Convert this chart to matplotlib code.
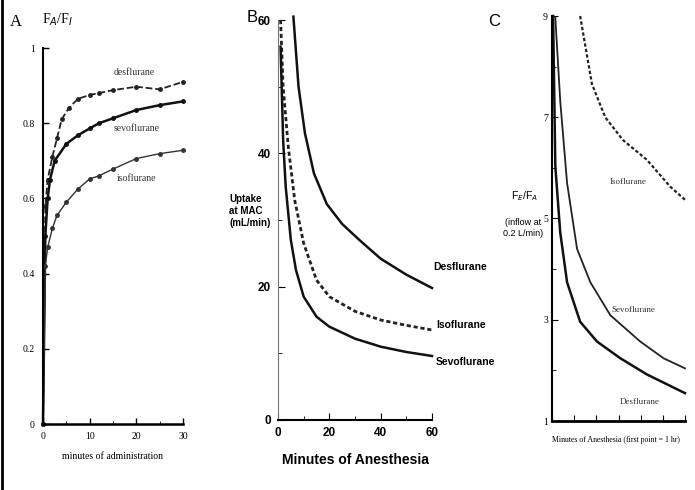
import numpy as np
import matplotlib.pyplot as plt
from matplotlib.lines import Line2D

# Panel A: alveolar / inspired concentration ratio vs minutes
a_des_x = [0, 0.5, 1, 2, 3, 4, 5.5, 7.5, 10, 12, 15, 20, 25, 30]
a_des_y = [0, 0.58, 0.65, 0.71, 0.76, 0.81, 0.84, 0.865, 0.875, 0.88, 0.888, 0.897, 0.89, 0.91]
a_sev_x = [0, 0.5, 1, 1.5, 2.5, 5, 7.5, 10, 12, 15, 20, 25, 30]
a_sev_y = [0, 0.5, 0.6, 0.65, 0.70, 0.745, 0.768, 0.786, 0.80, 0.813, 0.835, 0.848, 0.858]
a_iso_x = [0, 0.5, 1, 2, 3, 5, 7.5, 10, 12, 15, 20, 25, 30]
a_iso_y = [0, 0.42, 0.47, 0.52, 0.555, 0.59, 0.625, 0.652, 0.66, 0.678, 0.706, 0.719, 0.728]

# Panel B: uptake at MAC (mL/min)
b_des_x = [6, 8, 10.5, 14, 19, 25, 32, 40, 50, 60]
b_des_y = [60.5, 50, 43, 37, 32.4, 29.4, 26.9, 24.2, 21.8, 19.8]
b_iso_x = [1, 2, 4, 6.5, 10, 15, 20, 30, 40, 50, 60]
b_iso_y = [60, 50, 41, 33, 26.5, 21, 18.5, 16.3, 15, 14.2, 13.5]
b_sev_x = [1, 2, 3, 5, 7, 10, 15, 20, 30, 40, 50, 60]
b_sev_y = [56, 42, 35, 27, 22.5, 18.5, 15.5, 14, 12.2, 11, 10.2, 9.6]

# Panel C: FE/FA at 0.2 L/min inflow (x in hours, first point = 1 hr)
c_iso_x = [1.27, 1.8, 2.4, 3.2, 4.28, 5.33, 6.0]
c_iso_y = [9.0, 7.66, 7.0, 6.55, 6.16, 5.63, 5.37]
c_sev_x = [0.15, 0.37, 0.68, 1.13, 1.73, 2.63, 3.98, 5.03, 6.0]
c_sev_y = [8.97, 7.33, 5.7, 4.4, 3.74, 3.09, 2.57, 2.24, 2.04]
c_des_x = [0.05, 0.15, 0.37, 0.68, 1.27, 2.03, 3.08, 4.28, 6.0]
c_des_y = [9.0, 6.03, 4.73, 3.74, 2.96, 2.57, 2.24, 1.92, 1.55]

W, H = 695, 490
fig = plt.figure(figsize=(W / 100, H / 100), dpi=100)

serif = ['Liberation Serif', 'DejaVu Serif']
narrow = ['Liberation Sans Narrow', 'Liberation Sans', 'DejaVu Sans']


def fx(px):
    return px / W


def fy(py):
    return 1 - py / H


# ---- panel A ----
axA = fig.add_axes([fx(43), fy(424), fx(183) - fx(43), fy(48) - fy(424)])
axA.plot(a_des_x, a_des_y, '--', color='#222', lw=1.3, marker='o', ms=2.5, clip_on=False)
axA.plot(a_sev_x, a_sev_y, '-', color='#111', lw=1.8, marker='o', ms=2.5, clip_on=False)
axA.plot(a_iso_x, a_iso_y, '-', color='#333', lw=1.0, marker='o', ms=2.5, clip_on=False)
axA.set_xlim(0, 30)
axA.set_ylim(0, 1)
axA.set_xticks([0, 10, 20, 30])
axA.set_xticks([5, 15, 25], minor=True)
axA.set_yticks([0, 0.2, 0.4, 0.6, 0.8, 1])
axA.set_yticklabels(['0', '0.2', '0.4', '0.6', '0.8', '1'])
for s in ['top', 'right']:
    axA.spines[s].set_visible(False)
axA.spines['left'].set_linewidth(1.5)
axA.spines['bottom'].set_linewidth(1.8)
axA.tick_params(direction='in', length=4, labelsize=7, pad=6, width=1)
axA.tick_params(which='minor', direction='in', length=2)
for lab in axA.get_xticklabels() + axA.get_yticklabels():
    lab.set_family(serif)
axA.text(19.5, 0.935, 'desflurane', fontsize=7, family=serif, color='#333', ha='center', va='center')
axA.text(20, 0.785, 'sevoflurane', fontsize=7, family=serif, color='#333', ha='center', va='center')
axA.text(20, 0.652, 'isoflurane', fontsize=7, family=serif, color='#333', ha='center', va='center')
axA.set_xlabel('minutes of administration', fontsize=7, family=serif, labelpad=8)
fig.text(fx(10), fy(22), 'A', fontsize=12, family=serif, va='center')
fig.text(fx(42), fy(20), r'F$_A$/F$_I$', fontsize=10, family=serif, va='center')

# ---- panel B ----
axB = fig.add_axes([fx(278), fy(420), fx(432) - fx(278), fy(20) - fy(420)])
axB.plot(b_des_x, b_des_y, '-', color='#111', lw=1.8, clip_on=False)
axB.plot(b_iso_x, b_iso_y, linestyle=(0, (1.5, 1)), color='#222', lw=2.0, clip_on=False)
axB.plot(b_sev_x, b_sev_y, '-', color='#111', lw=1.8, clip_on=False)
axB.set_xlim(0, 60)
axB.set_ylim(0, 60)
axB.set_xticks([0, 20, 40, 60])
axB.set_xticks([10, 30, 50], minor=True)
axB.set_yticks([0, 20, 40, 60])
axB.set_yticks([10, 30, 50], minor=True)
for s in ['top', 'right']:
    axB.spines[s].set_visible(False)
axB.spines['left'].set_color('#777')
axB.spines['bottom'].set_linewidth(1.5)
axB.tick_params(direction='in', length=5, labelsize=8.5, pad=5)
axB.tick_params(which='minor', direction='in', length=3)
for lab in axB.get_xticklabels() + axB.get_yticklabels():
    lab.set_family(narrow)
    lab.set_weight('bold')
axB.text(60.5, 22.5, 'Desflurane', fontsize=7.5, family=narrow, weight='bold')
axB.text(61.5, 13.8, 'Isoflurane', fontsize=7.5, family=narrow, weight='bold')
axB.text(61.5, 9.5, 'Sevoflurane', fontsize=7.5, family=narrow, weight='bold', va='top')
axB.set_xlabel('Minutes of Anesthesia', fontsize=10, family=narrow, weight='bold', labelpad=10)
fig.text(fx(247), fy(17), 'B', fontsize=12, family=narrow, va='center')
fig.text(fx(229), fy(211), 'Uptake\nat MAC\n(mL/min)', fontsize=7, family=narrow, weight='bold',
         va='center', ha='left', linespacing=1.25)

# ---- panel C ----
axC = fig.add_axes([fx(552), fy(421), fx(685) - fx(552), fy(16) - fy(421)])
axC.plot(c_iso_x, c_iso_y, linestyle=(0, (1.5, 1)), color='#222', lw=1.6, clip_on=False)
axC.plot(c_sev_x, c_sev_y, '-', color='#222', lw=1.3, clip_on=False)
axC.plot(c_des_x, c_des_y, '-', color='#111', lw=1.8, clip_on=False)
axC.set_xlim(0, 6)
axC.set_ylim(1, 9)
axC.set_xticks(range(0, 7))
axC.set_xticklabels([])
axC.set_yticks([1, 3, 5, 7, 9])
axC.set_yticks([2, 4, 6, 8], minor=True)
for s in ['top', 'right']:
    axC.spines[s].set_visible(False)
axC.spines['left'].set_linewidth(1.5)
axC.spines['bottom'].set_linewidth(2)
axC.tick_params(direction='in', length=4, labelsize=7, pad=3)
axC.tick_params(which='minor', direction='in', length=3)
for lab in axC.get_yticklabels():
    lab.set_family(serif)
axC.text(3.42, 5.72, 'Isoflurane', fontsize=6.5, family=serif, color='#333', ha='center', va='center')
axC.text(3.65, 3.19, 'Sevoflurane', fontsize=6.5, family=serif, color='#333', ha='center', va='center')
axC.text(3.96, 1.37, 'Desflurane', fontsize=6.5, family=serif, color='#333', ha='center', va='center')
axC.set_xlabel('Minutes of Anesthesia (first point = 1 hr)', fontsize=5.6, family=serif,
               labelpad=8, loc='left')
fig.text(fx(488), fy(22), 'C', fontsize=12, family=narrow, va='center')
fig.text(fx(525), fy(196), r'F$_E$/F$_A$', fontsize=7.5, family=narrow, va='center', ha='center')
fig.text(fx(523), fy(228), '(inflow at\n0.2 L/min)', fontsize=6.5, family=narrow, va='center',
         ha='center', linespacing=1.3)

# frame line on the left edge
fig.add_artist(Line2D([fx(2), fx(2)], [0, 1], color='black', lw=2))

fig.savefig('out.png', dpi=100)
